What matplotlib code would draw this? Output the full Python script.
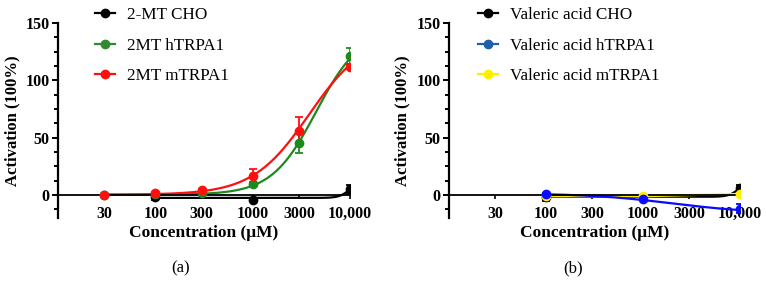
import numpy as np
import matplotlib.pyplot as plt
from matplotlib.lines import Line2D
from matplotlib.ticker import MultipleLocator

plt.rcParams['font.family'] = ['Liberation Serif', 'DejaVu Serif']

# data
conc_ticks = [30, 100, 300, 1000, 3000, 10000]
conc_tick_labels = ['30', '100', '300', '1000', '3000', '10,000']

# panel (a)
mt_cho_x = [100, 1000, 10000]
mt_cho_y = [-2, -4, 5]
mt_cho_err = [2, 1, 4]
mt_h_x = [30, 100, 300, 1000, 3000, 10000]
mt_h_y = [0, 1, 2, 9.5, 45, 121]
mt_h_err = [0.5, 1, 1, 1.5, 8, 7]
mt_m_x = [30, 100, 300, 1000, 3000, 10000]
mt_m_y = [0, 1.5, 4, 17, 56, 112]
mt_m_err = [0.5, 1, 1, 6, 12, 2]

# panel (b)
va_cho_x = [100, 10000]
va_cho_y = [-2, 6]
va_cho_err = [3, 3]
va_h_x = [100, 1000, 10000]
va_h_y = [1, -3.5, -12]
va_h_err = [1, 1, 4]
va_m_x = [100, 1000, 10000]
va_m_y = [-1, -1, 1]
va_m_err = [0.5, 0.5, 1]

# Hill curve parameters (bottom, top, ec50, slope) estimated from the fitted lines
fit_mt_cho = (-2.5, 12, 10000, 8)
fit_mt_h = (0.3, 145, 4500, 1.9)
fit_mt_m = (0.3, 140, 3800, 1.5)
fit_va_cho = (-1.5, 14, 10000, 8)
fit_va_h = (1.5, -16, 2000, 1.0)


def hill(x, p):
    bottom, top, ec50, n = p
    return bottom + (top - bottom) / (1 + (ec50 / x) ** n)


def style_axes(ax):
    ax.set_xscale('log')
    ax.set_xlim(10, 10000)
    ax.set_ylim(-20, 150)
    ax.spines['top'].set_visible(False)
    ax.spines['right'].set_visible(False)
    ax.spines['bottom'].set_position(('data', 0))
    ax.spines['left'].set_linewidth(1.6)
    ax.spines['bottom'].set_linewidth(1.3)
    ax.set_xticks(conc_ticks)
    ax.set_xticklabels(conc_tick_labels)
    ax.xaxis.set_minor_locator(plt.NullLocator())
    ax.tick_params(axis='x', length=3, width=1.2, pad=5, labelsize=11.5)
    ax.set_yticks([0, 50, 100, 150])
    ax.yaxis.set_minor_locator(MultipleLocator(12.5))
    ax.tick_params(axis='y', which='major', length=4, width=1.4, labelsize=11.5, pad=2)
    ax.tick_params(axis='y', which='minor', length=3, width=1.4)
    for lab in ax.get_xticklabels() + ax.get_yticklabels():
        lab.set_fontweight('bold')
    ax.set_xlabel('Concentration (\u03bcM)', fontsize=12.5, fontweight='bold')
    ax.set_ylabel('Activation (100%)', fontsize=12, fontweight='bold', labelpad=4)
    ax.xaxis.set_label_coords(0.5, -0.035)


def series(ax, x, y, err, color, fit=None, line_x=None):
    ax.errorbar(x, y, yerr=err, fmt='o', color=color, ms=6, capsize=3,
                elinewidth=1.3, capthick=1.3, zorder=3)
    if fit is not None:
        xs = np.logspace(np.log10(min(x)), np.log10(max(x)), 200)
        ax.plot(xs, hill(xs, fit), color=color, lw=1.6, zorder=2)
    elif line_x is not None:
        ax.plot(x, y, color=color, lw=1.6, zorder=2)


fig = plt.figure(figsize=(7.66, 2.82), dpi=100)
ax1 = fig.add_axes([0.0757, 0.227, 0.381, 0.691])
ax2 = fig.add_axes([0.586, 0.227, 0.380, 0.691])

series(ax1, mt_cho_x, mt_cho_y, mt_cho_err, 'black', fit_mt_cho)
series(ax1, mt_h_x, mt_h_y, mt_h_err, '#1e8a1e', fit_mt_h)
series(ax1, mt_m_x, mt_m_y, mt_m_err, '#ff1010', fit_mt_m)
style_axes(ax1)

series(ax2, va_cho_x, va_cho_y, va_cho_err, 'black', fit_va_cho)
series(ax2, va_m_x, va_m_y, va_m_err, '#ffee00', None, line_x=True)
series(ax2, va_h_x, va_h_y, va_h_err, '#0a0aff', fit_va_h)
style_axes(ax2)


def handles(colors):
    return [Line2D([], [], color=c, marker='o', ms=6, lw=1.6) for c in colors]


leg_kw = dict(frameon=False, fontsize=12.3, handlelength=1.2, handletextpad=0.7,
              labelspacing=0.85, borderaxespad=0, borderpad=0)
fig.legend(handles(['black', '#2e8b2e', '#ff1010']),
           ['2-MT CHO', '2MT hTRPA1', '2MT mTRPA1'],
           loc='upper left', bbox_to_anchor=(0.124, 0.975), **leg_kw)
fig.legend(handles(['black', '#1f5fa8', '#ffee00']),
           ['Valeric acid CHO', 'Valeric acid hTRPA1', 'Valeric acid mTRPA1'],
           loc='upper left', bbox_to_anchor=(0.624, 0.975), **leg_kw)

fig.text(0.236, 0.035, '(a)', ha='center', fontsize=12)
fig.text(0.748, 0.035, '(b)', ha='center', fontsize=12)

fig.savefig('out.png', dpi=100)
